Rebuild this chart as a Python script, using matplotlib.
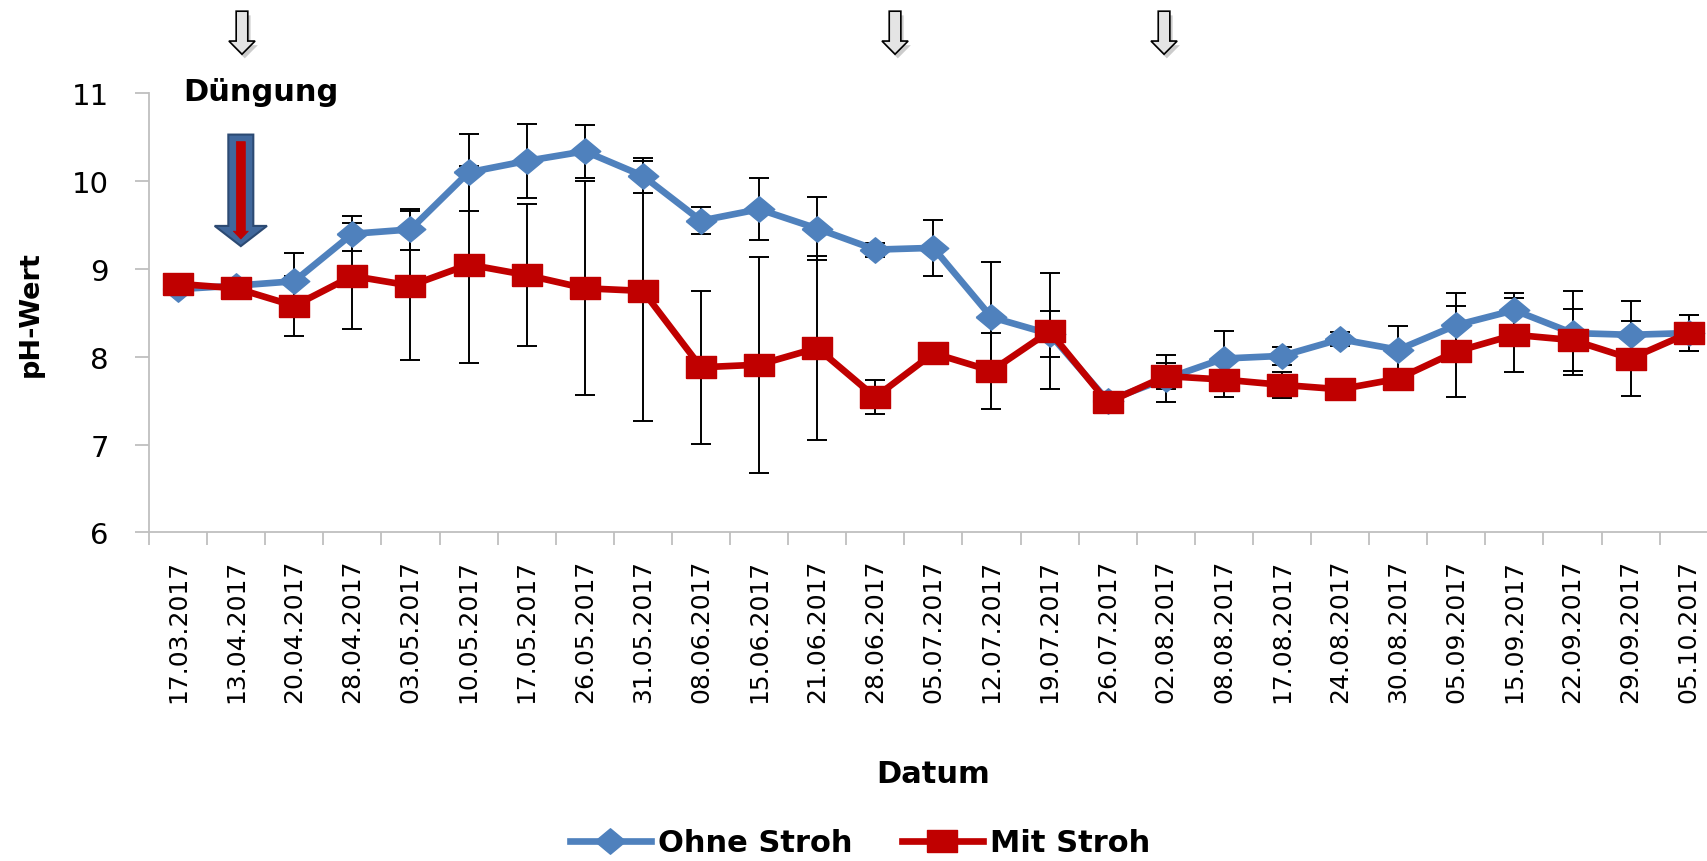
import matplotlib.pyplot as plt
import matplotlib.patheffects as pe
from matplotlib.patches import FancyArrow

plt.rcParams['font.family'] = 'DejaVu Sans'

dates = ['17.03.2017', '13.04.2017', '20.04.2017', '28.04.2017', '03.05.2017',
         '10.05.2017', '17.05.2017', '26.05.2017', '31.05.2017', '08.06.2017',
         '15.06.2017', '21.06.2017', '28.06.2017', '05.07.2017', '12.07.2017',
         '19.07.2017', '26.07.2017', '02.08.2017', '08.08.2017', '17.08.2017',
         '24.08.2017', '30.08.2017', '05.09.2017', '15.09.2017', '22.09.2017',
         '29.09.2017', '05.10.2017']

# pH ohne Stroh (mean, +/- error)
ohne = [8.77, 8.81, 8.86, 9.40, 9.45, 10.10, 10.23, 10.34, 10.06, 9.55, 9.68, 9.46, 9.22, 9.24,
        8.45, 8.26, 7.50, 7.75, 7.98, 8.01, 8.20, 8.08, 8.36, 8.53, 8.27, 8.25, 8.27]
ohne_err = [0.03, 0.05, 0.32, 0.20, 0.23, 0.44, 0.42, 0.30, 0.20, 0.15, 0.35, 0.36, 0.08, 0.32,
            0.63, 0.26, 0.04, 0.27, 0.31, 0.10, 0.08, 0.27, 0.37, 0.20, 0.48, 0.38, 0.20]

# pH mit Stroh
mit = [8.83, 8.78, 8.58, 8.92, 8.81, 9.05, 8.93, 8.78, 8.75, 7.88, 7.91, 8.10, 7.54, 8.04,
       7.84, 8.29, 7.48, 7.78, 7.74, 7.68, 7.63, 7.75, 8.06, 8.25, 8.19, 7.98, 8.27]
mit_err = [0.05, 0.05, 0.34, 0.60, 0.85, 1.12, 0.81, 1.22, 1.48, 0.87, 1.23, 1.05, 0.19, 0.05,
           0.43, 0.66, 0.04, 0.15, 0.20, 0.15, 0.05, 0.05, 0.52, 0.42, 0.35, 0.43, 0.20]

# positions (category index) of the markers above the plot
fert_marks = [1.1, 12.34, 16.97]
duengung_x = 1.08

blue = '#4F81BD'
red = '#C00000'
grey = '#BFBFBF'

x = list(range(len(dates)))

fig = plt.figure(figsize=(17.07, 8.62), dpi=100)
ax = fig.add_axes([0.0873, 0.3812, 0.919, 0.5094])

ax.errorbar(x, ohne, yerr=ohne_err, fmt='none', ecolor='black', elinewidth=1.4,
            capsize=7, capthick=1.4, zorder=2)
ax.errorbar(x, mit, yerr=mit_err, fmt='none', ecolor='black', elinewidth=1.4,
            capsize=7, capthick=1.4, zorder=2)

diamond = [(-1.2, 0), (0, -1), (1.2, 0), (0, 1), (-1.2, 0)]
square = [(-0.635, -0.5), (0.635, -0.5), (0.635, 0.5), (-0.635, 0.5), (-0.635, -0.5)]
ax.plot(x, ohne, color=blue, lw=4.8, marker=diamond, ms=22, mec=blue,
        label='Ohne Stroh', zorder=3, clip_on=False)
ax.plot(x, mit, color=red, lw=4.8, marker=square, ms=21, mec=red,
        label='Mit Stroh', zorder=4, clip_on=False)

ax.set_xlim(-0.5, len(dates) - 0.5)
ax.set_ylim(6, 11)
ax.set_yticks([6, 7, 8, 9, 10, 11])

# category axis: ticks between categories, labels on categories
ax.set_xticks([i - 0.5 for i in range(len(dates) + 1)])
ax.set_xticklabels([])
ax.set_xticks(x, minor=True)
ax.set_xticklabels(dates, minor=True, rotation=90, fontsize=18)
ax.tick_params(axis='x', which='major', length=9, width=1.3, color=grey, direction='out')
ax.tick_params(axis='x', which='minor', length=0, pad=19)
ax.tick_params(axis='y', length=10, width=1.3, color=grey, pad=19, labelsize=21)

for s in ['top', 'right']:
    ax.spines[s].set_visible(False)
for s in ['left', 'bottom']:
    ax.spines[s].set_color(grey)
    ax.spines[s].set_linewidth(1.3)

ax.set_xlabel('Datum', fontsize=22, fontweight='bold')
ax.xaxis.set_label_coords(0.5, -0.55)
ax.xaxis.label.set_va('center')
ax.set_ylabel('pH-Wert', fontsize=19.5, fontweight='bold')
ax.yaxis.set_label_coords(-0.0752, 0.5)
ax.yaxis.label.set_va('center')

ax.legend(loc='center', bbox_to_anchor=(860 / 1707, 18 / 862), bbox_transform=fig.transFigure,
          ncol=2, frameon=False, handlelength=2.65, handletextpad=0.25,
          columnspacing=1.6, prop={'weight': 'bold', 'size': 22})

# hollow arrows marking dates
for xm in fert_marks:
    arr = FancyArrow(xm, 11.935, 0, -0.49, width=0.2, head_width=0.45, head_length=0.15,
                     length_includes_head=True, facecolor='#E4E4E4', edgecolor='black',
                     lw=1.2, clip_on=False, zorder=5)
    arr.set_path_effects([pe.withSimplePatchShadow(offset=(2, -3), shadow_rgbFace='grey', alpha=0.4)])
    ax.add_patch(arr)

ax.text(1.43, 11.02, 'Düngung', ha='center', va='center', fontsize=22, fontweight='bold')

big = FancyArrow(duengung_x, 10.53, 0, -1.27, width=0.43, head_width=0.9, head_length=0.23,
                 length_includes_head=True, facecolor='#41689C', edgecolor='#2C4A73',
                 lw=1.5, clip_on=False, zorder=5)
ax.add_patch(big)
inner = FancyArrow(duengung_x, 10.45, 0, -1.11, width=0.155, head_width=0.26, head_length=0.09,
                   length_includes_head=True, facecolor=red, edgecolor=red,
                   lw=0.5, clip_on=False, zorder=6)
ax.add_patch(inner)

fig.savefig('out.png', dpi=100)
